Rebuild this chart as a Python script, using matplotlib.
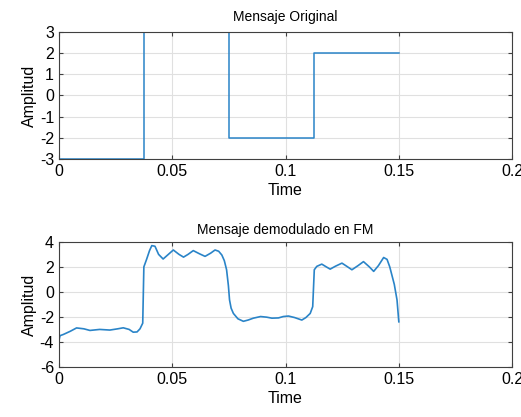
import matplotlib
matplotlib.use("Agg")
import matplotlib.pyplot as plt

plt.rcParams['font.family'] = ['Liberation Sans', 'DejaVu Sans']
plt.rcParams['axes.unicode_minus'] = False

# original message (step levels)
t_orig = [0, 0.0375, 0.0375, 0.075, 0.075, 0.1125, 0.1125, 0.15]
m_orig = [-3, -3, 3, 3, -2, -2, 2, 2]

# demodulated FM message
t_dem = [0, 0.0005, 0.002, 0.005, 0.0078, 0.011, 0.0137, 0.018, 0.0225, 0.026,
         0.0284, 0.031, 0.0328, 0.0345, 0.0358, 0.037, 0.0375, 0.0387, 0.040, 0.041,
         0.0424, 0.044, 0.046, 0.048, 0.0505, 0.053, 0.055, 0.057, 0.0593, 0.062,
         0.0645, 0.067, 0.0689, 0.0705, 0.0719, 0.073, 0.074, 0.0748, 0.0753, 0.076,
         0.077, 0.079, 0.0814, 0.0835, 0.0858, 0.089, 0.0917, 0.094, 0.0969, 0.099,
         0.1013, 0.104, 0.1072, 0.109, 0.1109, 0.112, 0.1127, 0.1138, 0.116, 0.118,
         0.1197, 0.122, 0.1249, 0.127, 0.1293, 0.132, 0.1344, 0.137, 0.1389, 0.141,
         0.1433, 0.1448, 0.146, 0.147, 0.148, 0.1492, 0.15]
m_dem = [-3.9, -3.5, -3.4, -3.15, -2.88, -2.95, -3.08, -3.0, -3.05, -2.95,
         -2.87, -3.0, -3.22, -3.2, -2.95, -2.5, 2.0, 2.6, 3.3, 3.7,
         3.65, 3.0, 2.63, 2.95, 3.35, 3.0, 2.78, 3.0, 3.3, 3.05,
         2.84, 3.1, 3.35, 3.25, 2.95, 2.5, 1.77, 0.5, -0.64, -1.3,
         -1.72, -2.15, -2.35, -2.25, -2.1, -1.97, -2.02, -2.1, -2.08, -1.97,
         -1.93, -2.05, -2.25, -2.05, -1.72, -1.18, 1.77, 2.04, 2.22, 2.0,
         1.82, 2.05, 2.3, 2.05, 1.77, 2.1, 2.42, 2.0, 1.64, 2.1,
         2.75, 2.6, 2.0, 1.3, 0.6, -0.64, -2.39]

blue = '#2a84c8'
fig = plt.figure(figsize=(5.21, 4.17), dpi=100)
ax1 = fig.add_axes([0.113, 0.619, 0.870, 0.304])
ax2 = fig.add_axes([0.113, 0.120, 0.870, 0.300])

ax1.plot(t_orig, m_orig, color=blue, lw=1.1)
ax1.set_ylim(-3, 3)
ax1.set_yticks([-3, -2, -1, 0, 1, 2, 3])
ax1.set_title('Mensaje Original', fontsize=10, pad=8)

ax2.plot(t_dem, m_dem, color=blue, lw=1.2)
ax2.set_ylim(-6, 4)
ax2.set_yticks([-6, -4, -2, 0, 2, 4])
ax2.set_title('Mensaje demodulado en FM', fontsize=10, pad=6)

for ax in (ax1, ax2):
    ax.set_xlim(0, 0.2)
    ax.set_xticks([0, 0.05, 0.1, 0.15, 0.2])
    ax.set_xticklabels(['0', '0.05', '0.1', '0.15', '0.2'])
    ax.grid(True, color='#e0e0e0', lw=0.8)
    ax.set_axisbelow(True)
    ax.tick_params(direction='in', top=True, right=True, labelsize=11.5,
                   length=3, color='#404040')
    for sp in ax.spines.values():
        sp.set_color('#404040')
        sp.set_linewidth(0.8)
    ax.set_xlabel('Time', fontsize=11.5, labelpad=3)
    ax.set_ylabel('Amplitud', fontsize=11.5, labelpad=2)

fig.savefig('out.png', dpi=100)
